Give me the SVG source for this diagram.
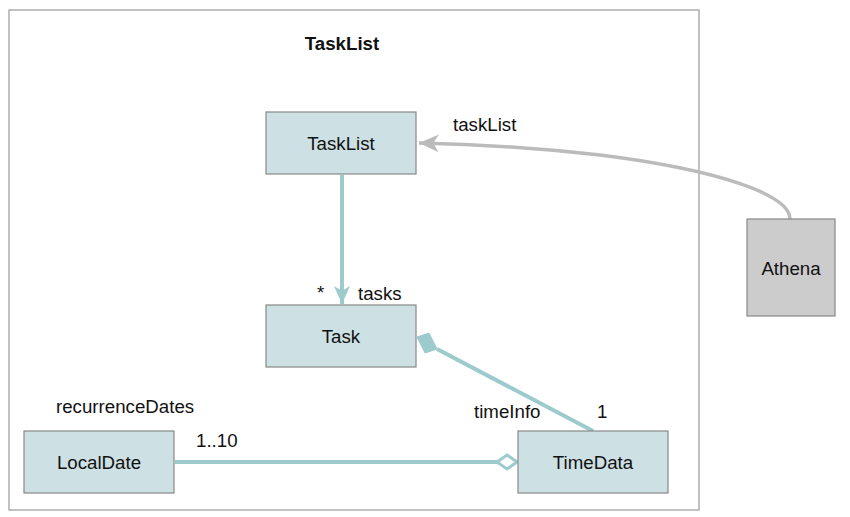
<svg xmlns="http://www.w3.org/2000/svg" width="850" height="517" viewBox="0 0 850 517">
<style>
text{font-family:"Liberation Sans",Arial,sans-serif;font-size:18.7px;fill:#111}
.n{fill:#cde0e4;stroke:#888;stroke-width:1.2}
.g{fill:#cccccc;stroke:#888;stroke-width:1.2}
.c{text-anchor:middle}
.e{fill:none;stroke:#9ccacd;stroke-width:4}
</style>
<defs>
<marker id="ah" viewBox="0 0 20 20" refX="18" refY="10" markerWidth="20" markerHeight="20" markerUnits="userSpaceOnUse" orient="auto">
<path d="M0,2 L18,10 L0,18 L5,10 Z" fill="#9ccacd"/>
</marker>
<marker id="ahg" viewBox="0 0 20 20" refX="18" refY="10" markerWidth="22" markerHeight="22" markerUnits="userSpaceOnUse" orient="auto">
<path d="M0,2 L18,10 L0,18 L5,10 Z" fill="#bbbbbb"/>
</marker>
</defs>
<rect x="9" y="10" width="690" height="500" fill="#fff" stroke="#999" stroke-width="1.2"/>
<text x="342" y="50" class="c" style="font-weight:bold">TaskList</text>
<g id="connectors">
<path d="M342,175 L342,304" class="e" marker-end="url(#ah)"/>
<path d="M790,219 C790,195 720,170 600,155 C520,146 470,144 419,143" fill="none" stroke="#bbbbbb" stroke-width="3.5" marker-end="url(#ahg)"/>
<path d="M593,431 L437,349" class="e"/>
<path d="M417,337 L429,333 L437,349 L425,353 Z" fill="#9ccacd" stroke="#9ccacd" stroke-width="1"/>
<path d="M175,462 L497,462" class="e"/>
<path d="M497,462 L507,455 L517,462 L507,469 Z" fill="#fff" stroke="#9ccacd" stroke-width="3"/>
</g>
<g id="TaskList"><rect x="266" y="112" width="150" height="62" class="n"/><text x="341" y="150" class="c">TaskList</text></g>
<g id="Task"><rect x="266" y="305" width="150" height="62" class="n"/><text x="341" y="343" class="c">Task</text></g>
<g id="LocalDate"><rect x="24" y="431" width="150" height="62" class="n"/><text x="99" y="469" class="c">LocalDate</text></g>
<g id="TimeData"><rect x="518" y="431" width="150" height="62" class="n"/><text x="593" y="469" class="c">TimeData</text></g>
<g id="Athena"><rect x="747" y="219" width="88" height="97" class="g"/><text x="791" y="275" class="c">Athena</text></g>
<g id="labels">
<text x="453" y="131">taskList</text>
<text x="317" y="299">*</text>
<text x="358" y="300">tasks</text>
<text x="474" y="418">timeInfo</text>
<text x="597" y="418">1</text>
<text x="56" y="413">recurrenceDates</text>
<text x="196" y="447">1..10</text>
</g>
</svg>
